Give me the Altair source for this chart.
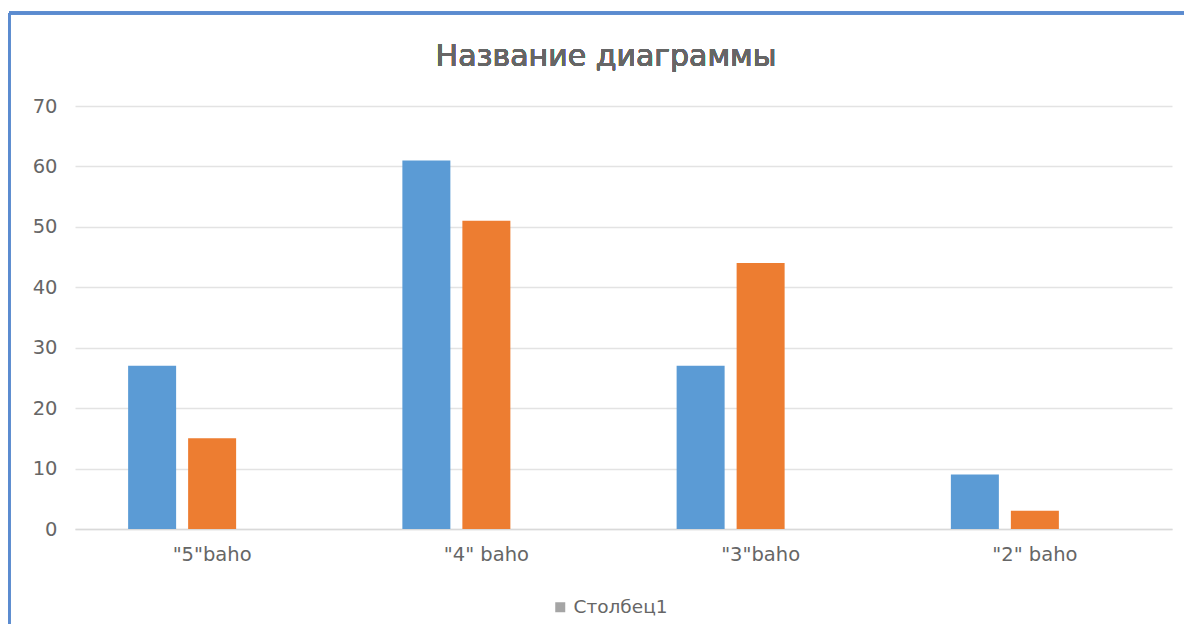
import altair as alt
import pandas as pd

categories = ['"5"baho', '"4" baho', '"3"baho', '"2" baho']
series_names = ["Ряд1", "Ряд2", "Столбец1"]
series1 = [27, 61, 27, 9]
series2 = [15, 51, 44, 3]
series3 = [0, 0, 0, 0]
colors = ["#5b9bd5", "#ed7d31", "#a5a5a5"]
title_text = "Название диаграммы"

rows = []
for name, vals in zip(series_names, [series1, series2, series3]):
    for c, v in zip(categories, vals):
        rows.append({"cat": c, "series": name, "value": v})
df = pd.DataFrame(rows)

FONT = "DejaVu Sans"
W, H = 1097, 423

bars = alt.Chart(df).mark_bar().encode(
    x=alt.X("cat:N", sort=categories, title=None,
            scale=alt.Scale(paddingInner=0.3874, paddingOuter=0.1937),
            axis=alt.Axis(labelAngle=0, labelFontSize=19.5, labelColor="#666666",
                          labelFont=FONT, labelPadding=16, ticks=False, grid=False,
                          domainColor="#d9d9d9", domainWidth=1.5)),
    xOffset=alt.XOffset("series:N", sort=series_names,
                        scale=alt.Scale(paddingInner=0.2, paddingOuter=0)),
    y=alt.Y("value:Q", title=None,
            scale=alt.Scale(domain=[0, 70], nice=False),
            axis=alt.Axis(values=list(range(0, 71, 10)), labelFontSize=19.5,
                          labelColor="#666666", labelFont=FONT, labelPadding=18,
                          ticks=False, domain=False, grid=True, gridColor="#e3e3e3",
                          gridWidth=1.5)),
    color=alt.Color("series:N", scale=alt.Scale(domain=series_names, range=colors),
                    legend=alt.Legend(values=["Столбец1"], title=None, orient="none",
                                      legendX=476, legendY=492, symbolType="square",
                                      symbolSize=100, labelFontSize=18.5,
                                      labelColor="#666666", labelFont=FONT,
                                      symbolStrokeWidth=0)),
)

title = alt.Chart(df).mark_text(
    text=title_text, font=FONT, fontSize=30, fontWeight="normal", color="#666666",
    align="center", baseline="middle"
).encode(x=alt.value(531), y=alt.value(-49))

border_top = alt.Chart(df).mark_rule(color="#5b8bd0", strokeWidth=2.5).encode(
    x=alt.value(-66), x2=alt.value(W + 40), y=alt.value(-93)
)
border_left = alt.Chart(df).mark_rule(color="#5b8bd0", strokeWidth=2.5).encode(
    x=alt.value(-66), y=alt.value(-93), y2=alt.value(H + 200)
)

chart = alt.layer(bars, title, border_top, border_left).properties(
    width=W, height=H,
    padding={"left": 67, "top": 98, "right": 12, "bottom": 95},
    autosize=alt.AutoSizeParams(type="none"),
).configure_view(stroke=None)

chart.save("out.html", embed_options={"renderer": "svg", "actions": False})
